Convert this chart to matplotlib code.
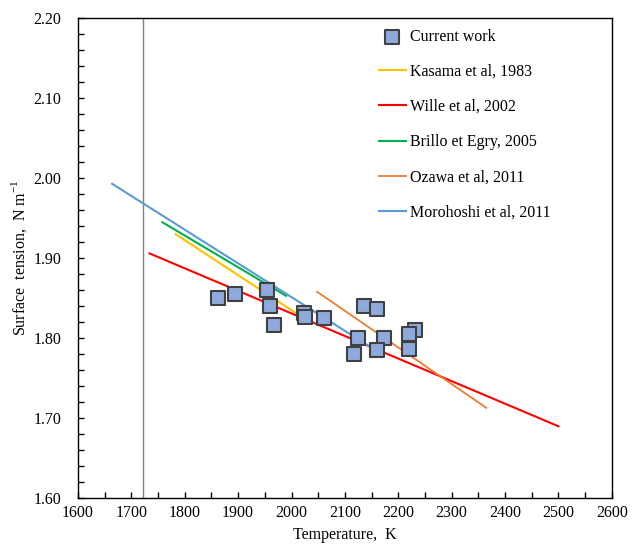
import matplotlib.pyplot as plt
from matplotlib.ticker import MultipleLocator

plt.rcParams['font.family'] = ['Liberation Serif', 'DejaVu Serif']
plt.rcParams['mathtext.fontset'] = 'custom'
plt.rcParams['mathtext.rm'] = 'Liberation Serif'
plt.rcParams['axes.unicode_minus'] = False

# current work measurements
temp_cw = [1862, 1895, 1955, 1959, 1967, 2023, 2025, 2061, 2136, 2161,
           2124, 2117, 2173, 2160, 2231, 2221, 2221]
st_cw = [1.850, 1.855, 1.860, 1.840, 1.816, 1.832, 1.827, 1.825, 1.840, 1.836,
         1.800, 1.780, 1.800, 1.785, 1.810, 1.805, 1.787]

# literature fits (end points)
ref_names = ['Kasama et al, 1983', 'Wille et al, 2002', 'Brillo et Egry, 2005',
             'Ozawa et al, 2011', 'Morohoshi et al, 2011']
ref_temp = [[1783, 2014], [1734, 2500], [1758, 1990], [2048, 2365], [1664, 2148]]
ref_st = [[1.930, 1.829], [1.906, 1.690], [1.945, 1.853], [1.858, 1.713], [1.993, 1.789]]
ref_colors = ['#FFC000', '#FF0000', '#00B050', '#ED7D31', '#5B9BD5']
ref_widths = [1.5, 1.5, 1.5, 1.3, 1.5]

t_melt = 1721

fig = plt.figure(figsize=(6.34, 5.5), dpi=100)
ax = fig.add_axes([0.123, 0.094, 0.842, 0.873])

ax.axvline(t_melt, color='#808080', lw=1)

handles = []
h = ax.scatter(temp_cw, st_cw, marker='s', s=100, facecolor='#8EA9DB',
               edgecolor='#404040', linewidth=1.5, zorder=3, label='Current work')
handles.append(h)
for name, tt, ss, c, w in zip(ref_names, ref_temp, ref_st, ref_colors, ref_widths):
    ln, = ax.plot(tt, ss, color=c, lw=w, label=name, zorder=2)
    handles.append(ln)

ax.set_xlim(1600, 2600)
ax.set_ylim(1.60, 2.20)
ax.xaxis.set_major_locator(MultipleLocator(100))
ax.xaxis.set_minor_locator(MultipleLocator(50))
ax.yaxis.set_major_locator(MultipleLocator(0.1))
ax.yaxis.set_minor_locator(MultipleLocator(0.02))
ax.yaxis.set_major_formatter(plt.FormatStrFormatter('%.2f'))
ax.tick_params(which='both', direction='in', length=4, width=1, labelsize=11.5,
               colors='black')
ax.tick_params(axis='x', which='major', pad=5)
ax.tick_params(axis='y', which='major', pad=12)
for s in ax.spines.values():
    s.set_linewidth(1)

ax.set_xlabel('Temperature,  K', fontsize=11.5, labelpad=4)
ax.set_ylabel('Surface  tension,  N m$^{-1}$', fontsize=11.5, labelpad=3)

ax.legend(handles=handles, loc='upper left', bbox_to_anchor=(0.563, 0.978),
          frameon=False, fontsize=11.5, borderpad=0, borderaxespad=0,
          handlelength=1.7, handletextpad=0.25, labelspacing=1.2)

fig.savefig('out.png', dpi=100)
